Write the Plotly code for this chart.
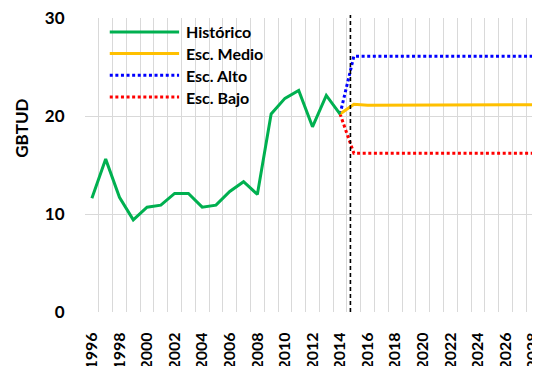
import plotly.graph_objects as go

# ---- data ----
years_hist = [1996, 1997, 1998, 1999, 2000, 2001, 2002, 2003, 2004, 2005,
              2006, 2007, 2008, 2009, 2010, 2011, 2012, 2013, 2014]
historico = [11.6, 15.6, 11.7, 9.4, 10.7, 10.9, 12.1, 12.1, 10.7, 10.9,
             12.3, 13.3, 12.0, 20.2, 21.8, 22.6, 18.9, 22.1, 20.2]

years_proj = [2014, 2015, 2016, 2017, 2018, 2019, 2020, 2021, 2022, 2023,
              2024, 2025, 2026, 2027, 2028]
esc_medio = [20.2, 21.2, 21.1, 21.1, 21.1, 21.1, 21.1, 21.1, 21.1, 21.1,
             21.15, 21.15, 21.15, 21.15, 21.15]
esc_alto = [20.2, 26.1, 26.1, 26.1, 26.1, 26.1, 26.1, 26.1, 26.1, 26.1,
            26.1, 26.1, 26.1, 26.1, 26.1]
esc_bajo = [20.2, 16.2, 16.2, 16.2, 16.2, 16.2, 16.2, 16.2, 16.2, 16.2,
            16.2, 16.2, 16.2, 16.2, 16.2]

x_tick_labels = [str(y) for y in range(1996, 2029, 2)]
y_ticks = [0, 10, 20, 30]
divider_year = 2014.75

FONT = "Lato"
GREEN = "#00b050"
YELLOW = "#ffc000"
BLUE = "#0000ff"
RED = "#ff0000"
DOT = "3px,2.6px"

series = [
    ("Esc. Alto", years_proj, esc_alto, BLUE, DOT),
    ("Esc. Bajo", years_proj, esc_bajo, RED, DOT),
    ("Esc. Medio", years_proj, esc_medio, YELLOW, "solid"),
    ("Histórico", years_hist, historico, GREEN, "solid"),
]

fig = go.Figure()
for name, xs, ys, col, dash in series:
    fig.add_trace(go.Scatter(x=xs, y=ys, name=name, mode="lines",
                             line=dict(color=col, width=3, dash=dash),
                             showlegend=False))

# divider
fig.add_shape(type="line", xref="x", yref="paper", x0=divider_year, x1=divider_year,
              y0=0, y1=1.01, line=dict(color="black", width=1.6, dash="4px,3px"))

# custom legend (long line samples as in the original)
legend_items = [("Histórico", GREEN, "solid"), ("Esc. Medio", YELLOW, "solid"),
                ("Esc. Alto", BLUE, DOT), ("Esc. Bajo", RED, DOT)]
leg_y = [0.9524, 0.8789, 0.805, 0.7311]
for (name, col, dash), yy in zip(legend_items, leg_y):
    fig.add_shape(type="line", xref="paper", yref="paper", x0=0.0544, x1=0.2068,
                  y0=yy, y1=yy, line=dict(color=col, width=3, dash=dash))
    fig.add_annotation(xref="paper", yref="paper", x=0.217, y=yy, text=name,
                       showarrow=False, xanchor="left", yanchor="middle",
                       font=dict(family=FONT, size=16, color="black", weight="bold"))

# y title
fig.add_annotation(xref="paper", yref="paper", x=-0.1398, y=0.6247, text="GBTUD",
                   textangle=-90, showarrow=False, xanchor="center", yanchor="middle",
                   font=dict(family=FONT, size=17, color="black", weight="bold"))

# page body has an 8px margin, so the figure is 8px smaller and margins shifted
fig.update_layout(
    width=532, height=358,
    margin=dict(l=77, r=0, t=10, b=54),
    plot_bgcolor="white", paper_bgcolor="white",
    font=dict(family=FONT, color="black"),
)
fig.update_xaxes(
    range=[1995.5, 2028.5], automargin=False, ticklabeloverflow="allow",
    tickmode="array", tickvals=list(range(1996, 2029, 2)), ticktext=x_tick_labels,
    tickangle=-90, ticks="outside", ticklen=13, tickcolor="rgba(0,0,0,0)",
    tickfont=dict(family=FONT, size=16, color="black", weight="bold"),
    showgrid=False, zeroline=False, showline=False,
    minor=dict(tick0=1995.5, dtick=1, showgrid=True, gridcolor="#d9d9d9", gridwidth=1.3, ticks=""),
)
fig.update_yaxes(
    range=[0, 30], tickmode="array", tickvals=y_ticks, automargin=False,
    ticklabeloverflow="allow",
    ticks="outside", ticklen=16, tickcolor="rgba(0,0,0,0)",
    tickfont=dict(family=FONT, size=17, color="black", weight="bold"),
    showgrid=True, gridcolor="#d9d9d9", gridwidth=1.3, zeroline=False, showline=False,
)

fig.write_html("out.html")
